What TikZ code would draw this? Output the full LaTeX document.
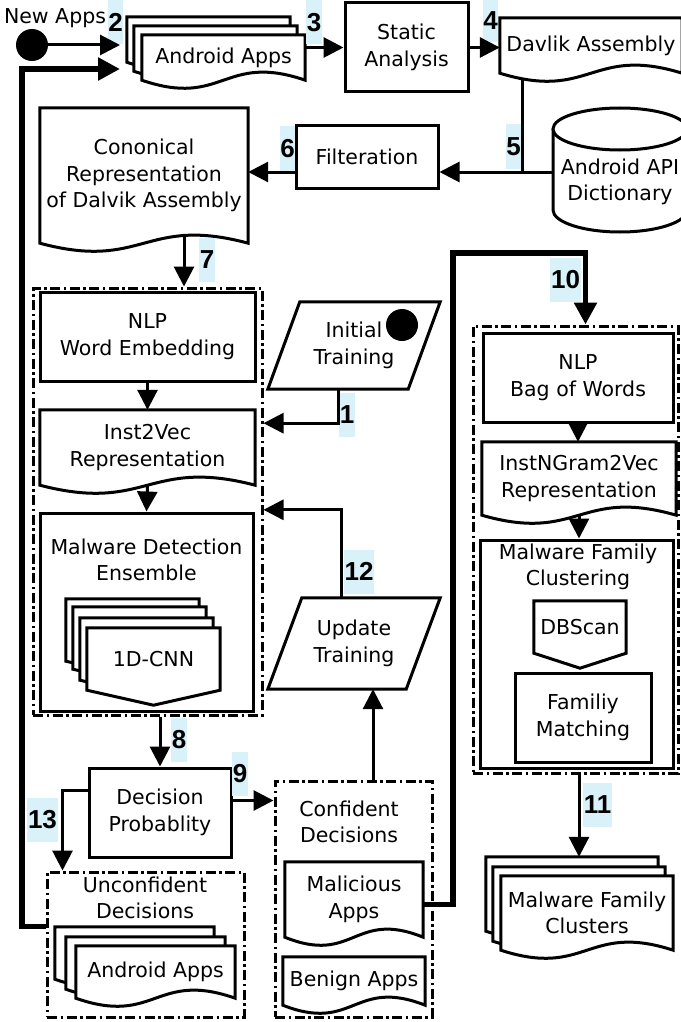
\documentclass[tikz,border=0pt]{standalone}
\usepackage{fontspec}
\setmainfont{DejaVu Sans}
\newfontfamily\stepfont{Liberation Sans}
\usepackage{tikz}
\usetikzlibrary{arrows.meta,positioning,calc,backgrounds}
\definecolor{stepbg}{RGB}{217,242,250}
\tikzstyle{arrow} = [line width=3pt,-{Triangle[length=20pt,width=20pt]}]
\tikzstyle{bigarrow} = [line width=5.8pt,-{Triangle[length=22pt,width=22pt]}]
\tikzstyle{outline} = [line width=3pt, draw=black, fill=white]
\tikzstyle{procbox} = [rectangle, draw, line width=3pt, align=center, inner sep=0pt]
\tikzstyle{textonly} = [align=center, inner sep=0pt]
\tikzstyle{group} = [rectangle, draw, line width=3pt, dash pattern=on 10pt off 3.5pt on 2.5pt off 3.5pt, inner sep=0pt]
\tikzstyle{stepno} = [fill=stepbg, inner xsep=0.6pt, inner ysep=0pt, minimum height=44pt, font=\stepfont\bfseries\fontsize{26}{26}\selectfont]

% document sheet with wavy bottom: node, dx, dy
\newcommand{\docsheet}[3]{%
  \draw[outline] ($(#1.north west)+(#2,#3)$) -- ($(#1.south west)+(#2,#3)$)
    .. controls ($(#1.south)+(#2,#3+28)$) and ($(#1.south)+(#2,#3-28)$) ..
    ($(#1.south east)+(#2,#3)$) -- ($(#1.north east)+(#2,#3)$) -- cycle;}
% off-page sheet with pointed bottom: node, dx, dy
\newcommand{\offsheet}[3]{%
  \draw[outline] ($(#1.north west)+(#2,#3)$) -- ($(#1.south west)+(#2,#3)$)
    -- ($(#1.south)+(#2,#3+15)$) -- ($(#1.south east)+(#2,#3)$)
    -- ($(#1.north east)+(#2,#3)$) -- cycle;}
% parallelogram: node, slant
\newcommand{\paragram}[2]{%
  \draw[outline] ($(#1.north west)+(#2,0)$) -- (#1.north east)
    -- ($(#1.south east)+(-#2,0)$) -- (#1.south west) -- cycle;}

\begin{document}
\begin{tikzpicture}[x=1pt, y=-1pt, every node/.style={font=\fontsize{20.5}{26.5}\selectfont}]
\useasboundingbox (0,0) rectangle (680,1022);

% Extraction
\node (newtxt) [textonly] at (55,18) {New Apps};
\node (newdot) [circle, fill=black, minimum size=32pt, inner sep=0pt] at (32,45) {};
\coordinate (in2) at (120,45);
\coordinate (in13) at (120,69);
\node (apps) [textonly, minimum width=163pt, minimum height=45pt] at (223.5,57.5) {Android Apps};
\node (static) [procbox, minimum width=123pt, minimum height=89pt] at (406.5,47.5) {Static\\Analysis};
\node (dava) [textonly, minimum width=182pt, minimum height=55pt] at (591,45.5) {Davlik Assembly};
\node (dict) [textonly, minimum width=134pt] at (620,182) {Android API\\Dictionary};
\node (filt) [procbox, minimum width=142pt, minimum height=62pt] at (367,157) {Filteration};
\node (canon) [textonly, minimum width=208pt, minimum height=135pt] at (144,175.5) {Cononical\\Representation\\of Dalvik Assembly};

% Detection
\node (detgrp) [group, minimum width=229pt, minimum height=427pt] at (147.5,501.5) {};
\node (nlpw) [procbox, minimum width=215pt, minimum height=89pt] at (147.5,336.5) {NLP\\Word Embedding};
\node (i2v) [textonly, minimum width=215pt, minimum height=75pt] at (147.5,447.5) {Inst2Vec\\Representation};
\node (ens) [procbox, minimum width=213pt, minimum height=198pt] at (146.5,612) {};
\node (enstitle) [textonly] at (146.5,560) {Malware Detection\\Ensemble};
\node (cnn) [textonly, minimum width=133pt, minimum height=62pt] at (153.5,659) {1D-CNN};
\node (init) [textonly, minimum width=172pt, minimum height=87pt] at (354,345.5) {Initial\\Training};
\node (initdot) [circle, fill=black, minimum size=32pt, inner sep=0pt] at (402,325) {};
\node (upd) [textonly, minimum width=172pt, minimum height=91pt] at (354,643.5) {Update\\Training};

% Decisions
\node (dec) [procbox, minimum width=142pt, minimum height=89pt] at (160,812.5) {Decision\\Probablity};
\node (ungrp) [group, minimum width=197pt, minimum height=145pt] at (145.5,944.5) {};
\node (untitle) [textonly] at (145,898) {Unconfident\\Decisions};
\node (unapps) [textonly, minimum width=159pt, minimum height=52pt] at (155.5,972) {Android Apps};
\node (congrp) [group, minimum width=157pt, minimum height=236pt] at (353.5,899) {};
\node (contitle) [textonly] at (349,822) {Confident\\Decisions};
\node (mal) [textonly, minimum width=138pt, minimum height=75pt] at (354,899.5) {Malicious\\Apps};
\node (ben) [textonly, minimum width=142pt, minimum height=48pt] at (354,981) {Benign Apps};

% Family clustering
\node (rgrp) [group, minimum width=205pt, minimum height=447pt] at (575.5,549.5) {};
\node (nlpb) [procbox, minimum width=190pt, minimum height=89pt] at (578,377.5) {NLP\\Bag of Words};
\node (ingr) [textonly, minimum width=194pt, minimum height=73pt] at (579,478.5) {InstNGram2Vec\\Representation};
\node (clus) [procbox, minimum width=193pt, minimum height=228pt] at (576.5,654) {};
\node (clustitle) [textonly] at (578,567) {Malware Family\\Clustering};
\node (dbs) [textonly, minimum width=92pt, minimum height=52pt] at (580,627) {DBScan};
\node (fam) [procbox, minimum width=136pt, minimum height=89pt] at (583,717.5) {Familiy\\Matching};
\node (mfc) [textonly, minimum width=172pt, minimum height=74pt] at (587,913) {Malware Family\\Clusters};

% Shapes behind the texts
\begin{pgfonlayer}{background}
\docsheet{apps}{-15}{-18} \docsheet{apps}{-8}{-9} \docsheet{apps}{0}{0}
\docsheet{dava}{0}{0}
\draw[outline] ($(dict.center)+(-67,-53)$) -- ($(dict.center)+(-67,28)$)
  arc[start angle=180, end angle=0, x radius=67, y radius=22] -- ($(dict.center)+(67,-53)$);
\draw[outline] ($(dict.center)+(0,-53)$) ellipse[x radius=67, y radius=21];
\docsheet{canon}{0}{0}
\docsheet{i2v}{0}{0}
\offsheet{cnn}{-21}{-29} \offsheet{cnn}{-14}{-21} \offsheet{cnn}{-7}{-10} \offsheet{cnn}{0}{0}
\paragram{init}{32}
\paragram{upd}{34}
\docsheet{unapps}{-21}{-19} \docsheet{unapps}{-10}{-9} \docsheet{unapps}{0}{0}
\docsheet{mal}{0}{0}
\docsheet{ben}{0}{0}
\docsheet{ingr}{0}{0}
\offsheet{dbs}{0}{0}
\docsheet{mfc}{-15}{-19} \docsheet{mfc}{-8}{-9} \docsheet{mfc}{0}{0}
\end{pgfonlayer}

% Step numbers
\node (s1) [stepno] at (347,415) {1};
\node (s2) [stepno] at (115.5,22.5) {2};
\node (s3) [stepno] at (314,22.5) {3};
\node (s4) [stepno] at (490.5,20.5) {4};
\node (s5) [stepno] at (513.5,146.5) {5};
\node (s6) [stepno] at (287.5,148.5) {6};
\node (s7) [stepno] at (207,259.5) {7};
\node (s8) [stepno] at (179,740) {8};
\node (s9) [stepno] at (240,774) {9};
\node (s10) [stepno] at (565.5,280) {10};
\node (s11) [stepno] at (597.5,805) {11};
\node (s12) [stepno] at (359,571.5) {12};
\node (s13) [stepno] at (42.5,820) {13};

% Connectors
\draw[arrow] (newdot) -- (in2);
\draw[arrow] (apps.east |- static.west) -- (static.west);
\draw[arrow] (static.east) -- (static.east -| dava.west);
\coordinate (j5) at (522,172);
\draw[line width=3pt] ($(dava.south)+(-69,5)$) -- (j5);
\draw[arrow] (dict.west |- j5) -- (filt.east |- j5);
\draw[arrow] (filt.west |- j5) -- (canon.east |- j5);
\coordinate (c7) at ($(canon.south)+(40,-7)$);
\draw[arrow] (c7) -- (c7 |- detgrp.north);
\draw[arrow] (nlpw.south) -- (i2v.north);
\draw[arrow] (i2v.south) -- (ens.north);
\coordinate (j1) at ($(init.south)+(-16,34)$);
\draw[arrow] ($(init.south)+(-16,0)$) -- (j1) -- (j1 -| detgrp.east);
\coordinate (j12) at ($(upd.north)+(-13,-88)$);
\draw[arrow] ($(upd.north)+(-13,0)$) -- (j12) -- (j12 -| detgrp.east);
\draw[arrow] ($(congrp.north)+(19.5,0)$) -- ($(upd.south)+(19,0)$);
\draw[arrow] (dec.north |- detgrp.south) -- (dec.north);
\coordinate (c9) at ($(dec.east)+(0,-12)$);
\draw[arrow] (c9) -- (c9 -| congrp.west);
\coordinate (c13) at ($(dec.west)+(0,-22)$);
\draw[arrow] (c13) -| ($(ungrp.north west)+(17,0)$);
\coordinate (fb) at (22,69);
\draw[bigarrow] ($(ungrp.north west)+(0,56)$) -| (fb) -- (in13);
\coordinate (j10) at (453,253);
\draw[bigarrow] ($(mal.east)+(0,5)$) -| (j10) -| ($(rgrp.north)+(10,0)$);
\draw[arrow] (nlpb.south) -- (nlpb.south |- ingr.north);
\draw[arrow] (ingr.south) -- (ingr.south |- clus.north);
\coordinate (c11) at ($(mfc.north)+(-8,-19)$);
\draw[arrow] (rgrp.south -| c11) -- (c11);
\end{tikzpicture}
\end{document}
